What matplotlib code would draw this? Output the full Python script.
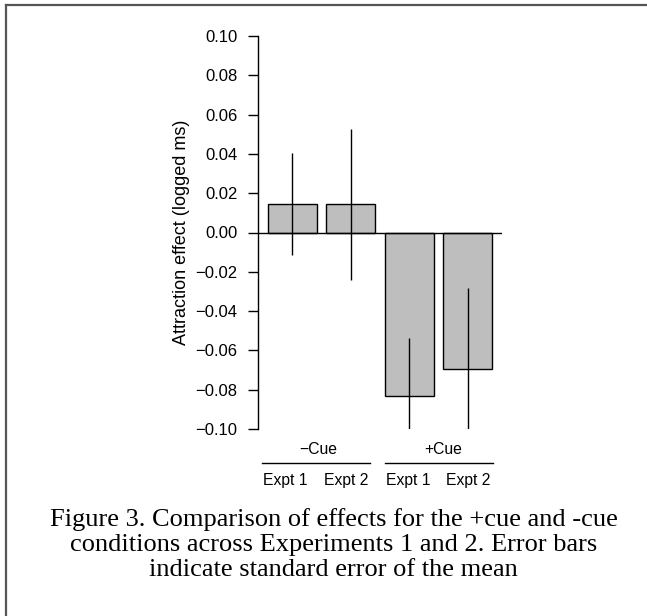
import matplotlib
matplotlib.use("Agg")
import matplotlib.pyplot as plt
from matplotlib.lines import Line2D
import matplotlib.transforms as mtransforms

# Data
groups = ["\u2212Cue", "+Cue"]
expt_labels = ["Expt 1", "Expt 2", "Expt 1", "Expt 2"]
means = [0.0145, 0.0143, -0.083, -0.0694]
sems = [0.0262, 0.0386, 0.0293, 0.0414]
yticks = [-0.10, -0.08, -0.06, -0.04, -0.02, 0.00, 0.02, 0.04, 0.06, 0.08, 0.10]
caption_lines = ["Figure 3. Comparison of effects for the +cue and -cue",
                 "conditions across Experiments 1 and 2. Error bars",
                 "indicate standard error of the mean"]

W, H = 647, 616
fig = plt.figure(figsize=(W / 100, H / 100), dpi=100)
plt.rcParams['font.family'] = ['Liberation Sans', 'DejaVu Sans']

ax_l, ax_r, ax_t, ax_b = 258, 502, 36, 429
ax = fig.add_axes([ax_l / W, 1 - ax_b / H, (ax_r - ax_l) / W, (ax_b - ax_t) / H])

centers = [0.7 + 1.2 * i for i in range(len(means))]
ax.bar(centers, means, width=1.0, color="#bebebe", edgecolor="black", linewidth=1.0, zorder=2)
for c, m, s in zip(centers, means, sems):
    ax.plot([c, c], [m - s, m + s], color="black", lw=1.0, zorder=3, solid_capstyle="butt")
ax.axhline(0, color="black", lw=1.0, zorder=4)

ax.set_xlim(0, 5.0)
ax.set_ylim(-0.10, 0.10)
for sp in ["top", "right", "bottom"]:
    ax.spines[sp].set_visible(False)
ax.spines["left"].set_linewidth(1.0)
ax.spines["left"].set_color("black")
ax.set_xticks([])
ax.set_yticks(yticks)
ax.set_yticklabels([("\u2212" if v < 0 else "") + f"{abs(v):.2f}" for v in yticks])
ax.tick_params(axis="y", direction="out", length=7.2, width=1.0, pad=7.5, labelsize=12)
ax.patch.set_visible(False)

fig.text(181 / W, 1 - 232.5 / H, "Attraction effect (logged ms)", rotation=90,
         ha="center", va="center", fontsize=13)

def ay(ypix):
    return (ax_b - ypix) / (ax_b - ax_t)

trans = mtransforms.blended_transform_factory(ax.transData, ax.transAxes)
group_x = [1.24, 3.79]
group_lines = [(0.09, 2.30), (2.61, 4.81)]
for g, gx, (x0, x1) in zip(groups, group_x, group_lines):
    ax.text(gx, ay(450), g, transform=trans, ha="center", va="center", fontsize=11.3, clip_on=False)
    ax.add_line(Line2D([x0, x1], [ay(462.7), ay(462.7)], transform=trans, color="black",
                       lw=1.0, clip_on=False))
label_x = [0.55, 1.81, 3.08, 4.30]
for lx, lab in zip(label_x, expt_labels):
    ax.text(lx, ay(480), lab, transform=trans, ha="center", va="center", fontsize=11.3, clip_on=False)

cap_y = [517, 543, 568]
for line, yy in zip(caption_lines, cap_y):
    fig.text(333.5 / W, 1 - yy / H, line, ha="center", va="center_baseline", fontsize=19,
             family=["Liberation Serif", "DejaVu Serif"])

# border (top and left)
fig.add_artist(Line2D([5.5 / W, 1], [1 - 5 / H, 1 - 5 / H], transform=fig.transFigure,
                      color="#555555", lw=1.6))
fig.add_artist(Line2D([5.5 / W, 5.5 / W], [0, 1 - 5 / H], transform=fig.transFigure,
                      color="#555555", lw=1.6))

fig.savefig("out.png", dpi=100)
